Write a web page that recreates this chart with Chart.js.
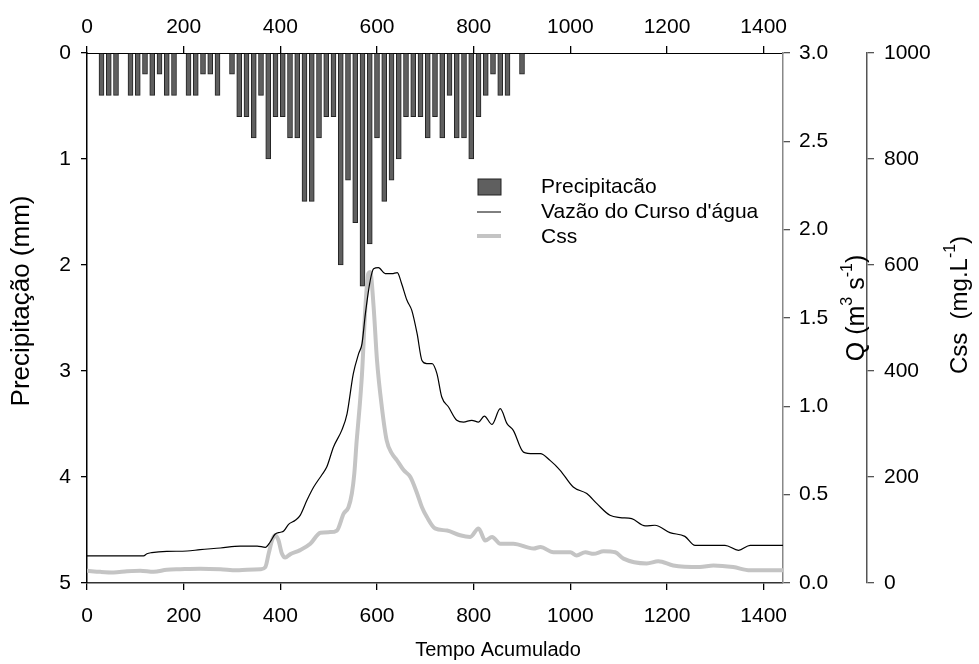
<!DOCTYPE html>
<html>
<head>
<meta charset="utf-8">
<script src="https://cdn.jsdelivr.net/npm/chart.js@4"></script>
<style>
  html, body { margin: 0; padding: 0; background: #fff; }
</style>
</head>
<body>
<canvas id="myChart" width="979" height="664"></canvas>
<script>
// Precipitation bars (mm), every 15 min
const precipTime = [30, 45, 60, 75, 90, 105, 120, 135, 150, 165, 180, 195, 210, 225, 240, 255, 270, 285,
  300, 315, 330, 345, 360, 375, 390, 405, 420, 435, 450, 465, 480, 495, 510, 525, 540, 555, 570, 585,
  600, 615, 630, 645, 660, 675, 690, 705, 720, 735, 750, 765, 780, 795, 810, 825, 840, 855, 870, 885, 900];
const precipValues = [0.4, 0.4, 0.4, 0, 0.4, 0.4, 0.2, 0.4, 0.2, 0.4, 0.4, 0, 0.4, 0.4, 0.2, 0.2, 0.4, 0,
  0.2, 0.6, 0.6, 0.8, 0.4, 1.0, 0.6, 0.6, 0.8, 0.8, 1.4, 1.4, 0.8, 0.6, 0.6, 2.0, 1.2, 1.6, 2.2, 1.8,
  0.8, 1.4, 1.2, 1.0, 0.6, 0.6, 0.6, 0.8, 0.6, 0.8, 0.4, 0.8, 0.8, 1.0, 0.6, 0.4, 0.2, 0.4, 0.4, 0, 0.2];

// Stream discharge Q (m3/s)
const qTime = [0, 60, 117, 124, 134, 165, 207, 234, 276, 317, 352, 369, 379, 389, 400, 407, 417, 431, 441,
  455, 469, 486, 496, 510, 527, 538, 551, 562, 569, 576, 586, 593, 603, 617, 631, 642, 651, 662, 672, 683,
  693, 703, 714, 724, 734, 748, 765, 779, 796, 810, 822, 838, 855, 869, 882, 903, 924, 938, 958, 979, 1006,
  1034, 1055, 1082, 1103, 1127, 1155, 1175, 1206, 1237, 1258, 1320, 1348, 1372, 1440];
const qValues = [0.153, 0.153, 0.153, 0.166, 0.172, 0.179, 0.181, 0.189, 0.198, 0.209, 0.209, 0.202, 0.232,
  0.276, 0.287, 0.294, 0.332, 0.355, 0.383, 0.468, 0.543, 0.613, 0.656, 0.77, 0.864, 0.958, 1.185, 1.298,
  1.355, 1.525, 1.713, 1.779, 1.785, 1.751, 1.751, 1.757, 1.694, 1.6, 1.543, 1.411, 1.26, 1.242, 1.242,
  1.185, 1.053, 0.996, 0.921, 0.911, 0.921, 0.911, 0.945, 0.898, 0.987, 0.902, 0.864, 0.741, 0.732, 0.732,
  0.694, 0.638, 0.543, 0.506, 0.449, 0.383, 0.37, 0.364, 0.323, 0.327, 0.285, 0.264, 0.213, 0.213, 0.185,
  0.213, 0.213];

// Suspended sediment concentration Css (mg/L)
const cssTime = [0, 28, 55, 83, 110, 138, 165, 193, 234, 276, 310, 331, 359, 369, 376, 383, 389, 396, 403,
  410, 420, 441, 462, 483, 503, 517, 531, 541, 548, 553, 558, 564, 569, 576, 582, 586, 593, 600, 610, 620,
  631, 641, 655, 669, 683, 693, 703, 720, 745, 772, 793, 810, 824, 838, 855, 882, 924, 938, 965, 1000, 1013,
  1031, 1048, 1069, 1093, 1110, 1158, 1182, 1213, 1268, 1296, 1337, 1372, 1440];
const cssValues = [23, 21, 20, 22, 23, 21, 25, 26, 27, 26, 24, 25, 26, 30, 56, 81, 90, 81, 56, 48, 54, 62,
  74, 95, 96, 99, 131, 143, 169, 206, 269, 332, 395, 521, 584, 587, 521, 420, 332, 269, 244, 232, 213, 200,
  169, 143, 125, 103, 99, 90, 87, 103, 80, 87, 74, 74, 65, 68, 58, 58, 52, 58, 55, 60, 58, 46, 37, 41, 33,
  30, 33, 30, 24, 24];

const xTicks = [0, 200, 400, 600, 800, 1000, 1200, 1400];
const precipTicks = [0, 1, 2, 3, 4, 5];
const qTicks = [0, 0.5, 1.0, 1.5, 2.0, 2.5, 3.0];
const cssTicks = [0, 200, 400, 600, 800, 1000];

const FONT = 'Liberation Sans, Arial, sans-serif';
Chart.defaults.font.family = FONT;
Chart.defaults.font.size = 21;
Chart.defaults.color = '#000';

const setTicks = list => scale => { scale.ticks = list.map(v => ({ value: v })); };

// draws a title with optional superscript parts, rotated bottom-to-top when vertical
function drawTitle(ctx, parts, cx, cy, size, vertical) {
  const sup = Math.round(size * 0.65);
  ctx.save();
  let total = 0;
  parts.forEach(p => {
    ctx.font = (p[1] ? sup : size) + 'px ' + FONT;
    p.w = ctx.measureText(p[0]).width;
    total += p.w;
  });
  ctx.translate(cx, cy);
  if (vertical) ctx.rotate(-Math.PI / 2);
  ctx.fillStyle = '#000';
  ctx.textBaseline = 'middle';
  let x = -total / 2;
  parts.forEach(p => {
    ctx.font = (p[1] ? sup : size) + 'px ' + FONT;
    ctx.fillText(p[0], x, p[1] ? -size * 0.38 : 0);
    x += p.w;
  });
  ctx.restore();
}

const extras = {
  id: 'extras',
  afterDraw(chart) {
    const ctx = chart.ctx;
    drawTitle(ctx, [['Tempo Acumulado', 0]], 498, 650, 20, false);
    drawTitle(ctx, [['Precipitação (mm)', 0]], 22, 301, 26, true);
    drawTitle(ctx, [['Q (m', 0], ['3', 1], [' s', 0], ['-1', 1], [')', 0]], 857, 308, 25, true);
    drawTitle(ctx, [['Css  (mg.L', 0], ['-1', 1], [')', 0]], 960, 305, 24, true);

    // legend
    ctx.save();
    ctx.fillStyle = '#5f5f5f';
    ctx.strokeStyle = '#222';
    ctx.lineWidth = 1;
    ctx.fillRect(478, 179, 23, 16);
    ctx.strokeRect(478, 179, 23, 16);
    ctx.beginPath();
    ctx.moveTo(477, 212); ctx.lineTo(501, 212);
    ctx.strokeStyle = '#000'; ctx.lineWidth = 1; ctx.stroke();
    ctx.beginPath();
    ctx.moveTo(477, 236); ctx.lineTo(501, 236);
    ctx.strokeStyle = '#c4c4c4'; ctx.lineWidth = 4; ctx.stroke();
    ctx.fillStyle = '#000';
    ctx.font = '21px ' + FONT;
    ctx.textBaseline = 'middle';
    ctx.fillText('Precipitacão', 541, 187);
    ctx.fillText('Vazão do Curso d\'água', 541, 212);
    ctx.fillText('Css', 541, 237);
    ctx.restore();
  }
};

const tickGrid = (len, color) => ({ display: true, drawOnChartArea: false, drawTicks: true, offset: false, tickLength: len, color: color, lineWidth: 1.3 });

const ctx = document.getElementById('myChart').getContext('2d');
const myChart = new Chart(ctx, {
  data: {
    datasets: [
      {
        type: 'line',
        label: 'Vazão do Curso d\'água',
        data: qTime.map((t, i) => ({ x: t, y: qValues[i] })),
        yAxisID: 'yQ',
        borderColor: '#000',
        borderWidth: 1.2,
        pointRadius: 0,
        cubicInterpolationMode: 'monotone',
        order: 1
      },
      {
        type: 'line',
        label: 'Css',
        data: cssTime.map((t, i) => ({ x: t, y: cssValues[i] })),
        yAxisID: 'yC',
        borderColor: '#c4c4c4',
        borderWidth: 4,
        pointRadius: 0,
        cubicInterpolationMode: 'monotone',
        order: 2
      },
      {
        type: 'bar',
        label: 'Precipitacão',
        data: precipTime.map((t, i) => ({ x: t, y: precipValues[i] })).filter(p => p.y > 0),
        yAxisID: 'y',
        backgroundColor: '#5f5f5f',
        borderColor: '#222',
        borderWidth: 1,
        barThickness: 5,
        order: 3
      }
    ]
  },
  options: {
    responsive: false,
    animation: false,
    devicePixelRatio: 1,
    layout: { padding: 0 },
    plugins: { legend: { display: false }, tooltip: { enabled: false } },
    scales: {
      x: {
        type: 'linear', position: 'bottom', min: 0, max: 1440, offset: false,
        afterBuildTicks: setTicks(xTicks),
        afterFit: s => { s.height = 81; },
        grid: tickGrid(7, '#000'),
        border: { color: '#333', width: 1.5 },
        ticks: { padding: 14, maxRotation: 0, autoSkip: false, callback: v => String(v) }
      },
      xTop: {
        type: 'linear', position: 'top', min: 0, max: 1440, offset: false,
        afterBuildTicks: setTicks(xTicks),
        afterFit: s => { s.height = 53; },
        grid: tickGrid(7, '#000'),
        border: { color: '#000', width: 1 },
        ticks: { padding: 6, maxRotation: 0, autoSkip: false, callback: v => String(v) }
      },
      y: {
        type: 'linear', position: 'left', min: 0, max: 5, reverse: true,
        afterBuildTicks: setTicks(precipTicks),
        afterFit: s => { s.width = 87; },
        grid: tickGrid(6, '#000'),
        border: { color: '#000', width: 1.5 },
        ticks: { padding: 10, callback: v => String(v) }
      },
      yQ: {
        type: 'linear', position: 'right', min: 0, max: 3, weight: 1,
        afterBuildTicks: setTicks(qTicks),
        afterFit: s => { s.width = 84; },
        grid: tickGrid(7, '#555'),
        border: { color: '#888', width: 1.5 },
        ticks: { padding: 9, callback: v => v.toFixed(1) }
      },
      yC: {
        type: 'linear', position: 'right', min: 0, max: 1000, weight: 2,
        afterBuildTicks: setTicks(cssTicks),
        afterFit: s => { s.width = 112; },
        grid: tickGrid(7, '#555'),
        border: { color: '#555', width: 1.5 },
        ticks: { padding: 10, callback: v => String(v) }
      }
    }
  },
  plugins: [extras]
});
</script>
</body>
</html>
